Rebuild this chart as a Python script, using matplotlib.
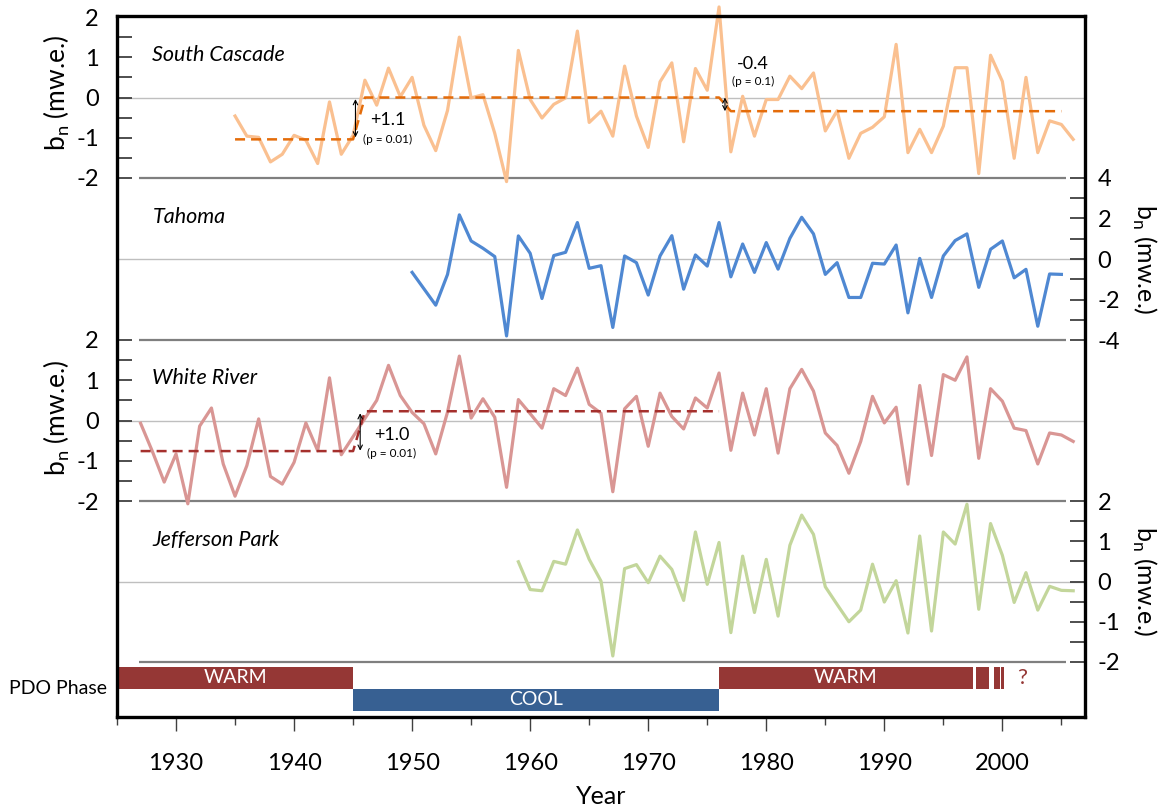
"""
Annual mass balance of four Pacific Northwest glaciers with PDO phases.
"""
import matplotlib
matplotlib.use("Agg")
import matplotlib.pyplot as plt
import numpy as np

plt.rcParams["font.family"] = ["Lato", "DejaVu Sans"]

# ── data ────────────────────────────────────────────────────────────────────
sc_years = list(range(1935, 2007))
sc_bn = [-0.46, -0.96, -0.99, -1.60, -1.41, -0.94, -1.06, -1.64, -0.11, -1.41,
         -0.94, 0.43, -0.19, 0.73, 0.02, 0.50, -0.69, -1.32, -0.32, 1.50,
         -0.01, 0.07, -0.89, -2.09, 1.17, -0.05, -0.51, -0.17, -0.01, 1.65,
         -0.62, -0.34, -0.96, 0.78, -0.46, -1.24, 0.39, 0.86, -1.10, 0.72,
         0.18, 2.25, -1.35, 0.03, -0.96, -0.05, -0.05, 0.53, 0.22, 0.61,
         -0.83, -0.33, -1.51, -0.89, -0.74, -0.48, 1.32, -1.37, -0.79, -1.37,
         -0.71, 0.74, 0.74, -1.89, 1.05, 0.40, -1.51, 0.50, -1.37, -0.58,
         -0.67, -1.04]
sc_shift_years = [1935, 1945, 1946, 1976, 1977, 2005]
sc_shift_bn = [-1.04, -1.04, 0.0, 0.0, -0.34, -0.34]

tah_years = list(range(1950, 2006))
tah_bn = [-0.66, -1.47, -2.28, -0.76, 2.18, 0.89, 0.53, 0.12, -3.80, 1.14,
          0.28, -1.95, 0.17, 0.33, 1.80, -0.46, -0.33, -3.38, 0.15, -0.18,
          -1.78, 0.15, 1.15, -1.49, 0.20, -0.35, 1.80, -0.88, 0.74, -0.66,
          0.81, -0.50, 1.02, 2.06, 1.24, -0.76, -0.18, -1.90, -1.90, -0.21,
          -0.25, 0.69, -2.66, 0.03, -1.90, 0.15, 0.91, 1.24, -1.40, 0.48,
          0.89, -0.93, -0.51, -3.32, -0.74, -0.76]

wr_years = list(range(1927, 2007))
wr_bn = [-0.07, -0.77, -1.53, -0.83, -2.07, -0.14, 0.31, -1.08, -1.88, -1.12,
         0.04, -1.39, -1.58, -1.04, -0.06, -0.75, 1.06, -0.85, -0.40, 0.05,
         0.50, 1.37, 0.62, 0.20, -0.08, -0.83, 0.21, 1.60, 0.06, 0.54,
         0.08, -1.66, 0.52, 0.17, -0.19, 0.79, 0.62, 1.30, 0.40, 0.18,
         -1.77, 0.29, 0.60, -0.64, 0.68, 0.10, -0.21, 0.56, 0.31, 1.18,
         -0.74, 0.68, -0.36, 0.79, -0.81, 0.79, 1.27, 0.73, -0.31, -0.62,
         -1.31, -0.52, 0.60, -0.06, 0.33, -1.58, 0.87, -0.87, 1.14, 1.00,
         1.58, -0.94, 0.79, 0.48, -0.19, -0.25, -1.08, -0.31, -0.36, -0.52]
wr_shift_years = [1927, 1945, 1946, 1976]
wr_shift_bn = [-0.76, -0.76, 0.23, 0.23]

jp_years = list(range(1959, 2007))
jp_bn = [0.49, -0.20, -0.23, 0.50, 0.43, 1.28, 0.55, 0.01, -1.85, 0.32,
         0.42, -0.03, 0.63, 0.30, -0.47, 1.23, -0.07, 0.97, -1.27, 0.63,
         -0.77, 0.55, -0.86, 0.90, 1.65, 1.17, -0.13, -0.57, -1.00, -0.71,
         0.43, -0.51, 0.02, -1.28, 1.13, -1.23, 1.23, 0.93, 1.92, -0.69,
         1.44, 0.65, -0.52, 0.22, -0.71, -0.12, -0.22, -0.23]

# PDO phases
pdo_start = [1925, 1945, 1976, 1997.8, 1999.3, 1999.9]
pdo_end = [1945, 1976, 1997.5, 1998.9, 1999.8, 2000.1]
pdo_label = ["WARM", "COOL", "WARM", "", "", ""]
pdo_cool = [False, True, False, False, False, False]

# ── styles ──────────────────────────────────────────────────────────────────
SC_LINE, SC_SHIFT = "#FAC090", "#E46C0A"
TAH_LINE = "#4F88D2"
WR_LINE, WR_SHIFT = "#D99694", "#A5302D"
JP_LINE = "#C3D69B"
WARM, COOL = "#953735", "#376092"
XMIN, XMAX = 1925, 2007

W, H = 1158, 810
L, R = 117, 1085


def _rect(top, bottom):
    return [L / W, 1 - bottom / H, (R - L) / W, (bottom - top) / H]


fig = plt.figure(figsize=(W / 100, H / 100), dpi=100)

ax_sc = fig.add_axes(_rect(17, 178))
ax_tah = fig.add_axes(_rect(178, 340))
ax_wr = fig.add_axes(_rect(340, 501))
ax_jp = fig.add_axes(_rect(501, 662))
ax_pdo = fig.add_axes(_rect(662, 717))
frame = fig.add_axes(_rect(16, 717))


def _panel(ax, lim, step, side, name, name_y):
    ax.set_xlim(XMIN, XMAX)
    ax.set_ylim(-lim, lim)
    ax.patch.set_visible(False)
    for s in ax.spines.values():
        s.set_visible(False)
    ax.set_xticks([])
    ax.axhline(0, color="#BFBFBF", lw=1.0, zorder=1)
    ax.hlines(-lim, 1926.9, 2005.4, color="#7F7F7F", lw=1.6, zorder=1,
              clip_on=False)
    ticks = np.arange(-lim, lim + step / 2, step)
    ax.set_yticks(ticks)
    major = 2 if lim == 4 else 1
    ax.set_yticklabels([f"{t:.0f}" if t % major == 0 else "" for t in ticks])
    if side == "left":
        ax.tick_params(axis="y", left=True, right=False, labelleft=True,
                       labelright=False, pad=13)
    else:
        ax.yaxis.tick_right()
        ax.tick_params(axis="y", pad=9)
    ax.tick_params(axis="y", direction="in", length=11, width=1.3,
                   color="#404040", labelsize=17)
    ax.text(1928, name_y, name, fontsize=15.5, style="italic",
            ha="left", va="center")


_panel(ax_sc, 2, 0.5, "left", "South Cascade", 1.05)
_panel(ax_tah, 4, 1, "right", "Tahoma", 2.05)
_panel(ax_wr, 2, 0.5, "left", "White River", 1.05)
_panel(ax_jp, 2, 0.5, "right", "Jefferson Park", 1.03)

# annual balance series
ax_sc.plot(sc_years, sc_bn, color=SC_LINE, lw=2.3, clip_on=False, zorder=3)
ax_tah.plot(tah_years, tah_bn, color=TAH_LINE, lw=2.3, zorder=3)
ax_wr.plot(wr_years, wr_bn, color=WR_LINE, lw=2.3, clip_on=False, zorder=3)
ax_jp.plot(jp_years, jp_bn, color=JP_LINE, lw=2.3, clip_on=False, zorder=3)

# regime shifts
ax_sc.plot(sc_shift_years, sc_shift_bn, color=SC_SHIFT, lw=1.8,
           ls=(0, (4, 2.4)), zorder=4)
ax_wr.plot(wr_shift_years, wr_shift_bn, color=WR_SHIFT, lw=1.8,
           ls=(0, (4, 2.4)), zorder=4)

arrow = dict(arrowstyle="<->", lw=0.8, color="black",
             shrinkA=0, shrinkB=0, mutation_scale=8)
ax_sc.annotate("", xy=(1945.2, -0.04), xytext=(1945.2, -0.99),
               arrowprops=arrow, zorder=5)
ax_sc.text(1947.9, -0.55, "+1.1", fontsize=13, ha="center", va="center")
ax_sc.text(1947.9, -1.04, "(p = 0.01)", fontsize=8.5, ha="center", va="center")
ax_sc.annotate("", xy=(1976.5, 0.0), xytext=(1976.5, -0.34),
               arrowprops=arrow, zorder=5)
ax_sc.text(1978.9, 0.84, "-0.4", fontsize=13, ha="center", va="center")
ax_sc.text(1978.9, 0.39, "(p = 0.1)", fontsize=8.5, ha="center", va="center")

ax_wr.annotate("", xy=(1945.6, 0.18), xytext=(1945.6, -0.75),
               arrowprops=arrow, zorder=5)
ax_wr.text(1948.3, -0.36, "+1.0", fontsize=13, ha="center", va="center")
ax_wr.text(1948.3, -0.83, "(p = 0.01)", fontsize=8.5, ha="center", va="center")

# y-axis titles
ylab = "b$_\\mathregular{n}$ (mw.e.)"
for yc in (93, 418):
    fig.text(57 / W, 1 - yc / H, ylab, rotation=90, fontsize=19,
             ha="center", va="center")
for yc in (259, 581):
    fig.text(1144 / W, 1 - yc / H, ylab, rotation=270, fontsize=18,
             ha="center", va="center")

# PDO phase bars
ax_pdo.set_xlim(XMIN, XMAX)
ax_pdo.set_ylim(0, 1)
ax_pdo.patch.set_visible(False)
for s in ax_pdo.spines.values():
    s.set_visible(False)
for x0, x1, lab, cool in zip(pdo_start, pdo_end, pdo_label, pdo_cool):
    yb = 0.11 if cool else 0.51
    ax_pdo.barh(yb, x1 - x0, left=x0, height=0.40, align="edge",
                color=COOL if cool else WARM, lw=0)
    if lab:
        ax_pdo.text((x0 + x1) / 2, yb + 0.20, lab, color="white",
                    fontsize=14, ha="center", va="center")
ax_pdo.text(2001.7, 0.71, "?", color=WARM, fontsize=16,
            ha="center", va="center")
ax_pdo.set_yticks([])
ax_pdo.set_xticks(range(1930, 2001, 10))
ax_pdo.set_xticks(range(1925, 2006, 10), minor=True)
ax_pdo.tick_params(axis="x", which="major", direction="out", length=10,
                   width=1.0, color="#404040", labelsize=17, pad=16)
ax_pdo.tick_params(axis="x", which="minor", direction="out", length=6,
                   width=1.0, color="#404040")
fig.text(58 / W, 1 - 688 / H, "PDO Phase", fontsize=14,
         ha="center", va="center")
fig.text(601 / W, 1 - 797 / H, "Year", fontsize=18, ha="center", va="center")

# outer border
frame.set_xticks([])
frame.set_yticks([])
frame.patch.set_visible(False)
for s in frame.spines.values():
    s.set_linewidth(2.4)
    s.set_color("black")
frame.set_zorder(10)

fig.savefig("out.png", dpi=100)
